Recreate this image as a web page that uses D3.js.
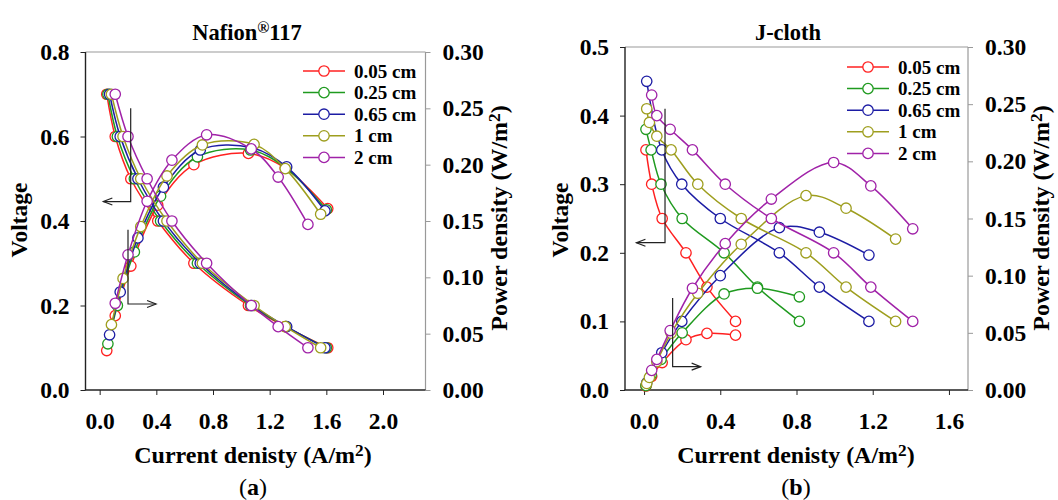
<!DOCTYPE html>
<html><head><meta charset="utf-8">
<script src="https://cdn.jsdelivr.net/npm/d3@7/dist/d3.min.js"></script>
<style>body{margin:0;background:#fff}svg{display:block}</style>
</head><body>
<svg id="c" width="1058" height="500"></svg>
<script>
// ---------- data ----------
const seriesNames = ["0.05 cm", "0.25 cm", "0.65 cm", "1 cm", "2 cm"];
const seriesColors = ["#ff2020", "#1f9a1f", "#1c1ca4", "#9e9e1e", "#a022a8"];

// Nafion 117 (panel a)
const nafionCurrent = [
  [0.05, 0.11, 0.22, 0.41, 0.665, 1.05, 1.31, 1.61],
  [0.058, 0.125, 0.245, 0.43, 0.69, 1.065, 1.315, 1.6],
  [0.07, 0.145, 0.27, 0.45, 0.71, 1.075, 1.32, 1.59],
  [0.083, 0.165, 0.29, 0.475, 0.725, 1.09, 1.31, 1.56],
  [0.11, 0.2, 0.335, 0.51, 0.755, 1.07, 1.26, 1.47]
];
const nafionVoltage = [
  [0.7, 0.6, 0.5, 0.4, 0.3, 0.2, 0.15, 0.1],
  [0.7, 0.6, 0.5, 0.4, 0.3, 0.2, 0.15, 0.1],
  [0.7, 0.6, 0.5, 0.4, 0.3, 0.2, 0.15, 0.1],
  [0.7, 0.6, 0.5, 0.4, 0.3, 0.2, 0.15, 0.1],
  [0.7, 0.6, 0.5, 0.4, 0.3, 0.2, 0.15, 0.1]
];
const nafionPower = [
  [0.035, 0.066, 0.11, 0.164, 0.2, 0.21, 0.197, 0.161],
  [0.041, 0.075, 0.1225, 0.172, 0.207, 0.213, 0.197, 0.16],
  [0.049, 0.087, 0.135, 0.18, 0.213, 0.215, 0.198, 0.159],
  [0.058, 0.099, 0.145, 0.19, 0.2175, 0.218, 0.1965, 0.156],
  [0.077, 0.12, 0.1675, 0.204, 0.2265, 0.214, 0.189, 0.147]
];

// J-cloth (panel b)
const jclothCurrent = [
  [0.01, 0.04, 0.095, 0.22, 0.33, 0.48],
  [0.01, 0.037, 0.089, 0.2, 0.42, 0.595, 0.815],
  [0.014, 0.093, 0.198, 0.4, 0.71, 0.92, 1.18],
  [0.014, 0.028, 0.067, 0.142, 0.282, 0.51, 0.85, 1.06, 1.32],
  [0.04, 0.067, 0.137, 0.254, 0.426, 0.668, 0.995, 1.19, 1.41]
];
const jclothVoltage = [
  [0.35, 0.3, 0.25, 0.2, 0.15, 0.1],
  [0.38, 0.35, 0.3, 0.25, 0.2, 0.15, 0.1],
  [0.45, 0.35, 0.3, 0.25, 0.2, 0.15, 0.1],
  [0.41, 0.39, 0.37, 0.35, 0.3, 0.25, 0.2, 0.15, 0.1],
  [0.43, 0.4, 0.38, 0.35, 0.3, 0.25, 0.2, 0.15, 0.1]
];
const jclothPower = [
  [0.0035, 0.012, 0.024, 0.044, 0.0495, 0.048],
  [0.0038, 0.013, 0.0267, 0.05, 0.084, 0.089, 0.0815],
  [0.0063, 0.0326, 0.06, 0.1, 0.142, 0.138, 0.118],
  [0.0057, 0.011, 0.0248, 0.0497, 0.0846, 0.1275, 0.17, 0.159, 0.132],
  [0.0172, 0.0268, 0.052, 0.089, 0.128, 0.167, 0.199, 0.1785, 0.141]
];

const xTicksA = [0, 0.4, 0.8, 1.2, 1.6, 2.0];
const xTicksB = [0, 0.4, 0.8, 1.2, 1.6];
const vTicksA = [0, 0.2, 0.4, 0.6, 0.8];
const vTicksB = [0, 0.1, 0.2, 0.3, 0.4, 0.5];
const pTicks = [0, 0.05, 0.10, 0.15, 0.20, 0.25, 0.30];

// annotation arrows in data units: [x of vertical, V top, V bottom, x of tip]
const arrowsA = [[0.219, 0.667, 0.446, 0.026], [0.2, 0.379, 0.2036, 0.398]];
const arrowsB = [[0.11, 0.41, 0.2147, -0.04], [0.15, 0.134, 0.034, 0.297]];

// ---------- drawing ----------
const FONT = "'Liberation Serif','Times New Roman',serif";
const svg = d3.select("#c");

function supText(sel, parts) {
  parts.forEach(([t, sup], k) => {
    const ts = sel.append("tspan").text(t);
    if (sup) ts.attr("font-size", "0.72em").attr("dy", "-0.42em");
    else if (k > 0 && parts[k - 1][1]) ts.attr("dy", "0.3em");
  });
}

function panel(cfg) {
  const g = svg.append("g");
  const x = d3.scaleLinear().domain(cfg.xDomain).range([cfg.left, cfg.right]);
  const yV = d3.scaleLinear().domain([0, cfg.vMax]).range([cfg.bottom, cfg.top]);
  const yP = d3.scaleLinear().domain([0, 0.3]).range([cfg.bottom, cfg.top]);

  const ax = g.append("g").attr("transform", `translate(0,${cfg.bottom})`)
    .call(d3.axisBottom(x).tickValues(cfg.xTicks).tickFormat(d3.format(".1f")).tickSize(5).tickPadding(17));
  const ayl = g.append("g").attr("transform", `translate(${cfg.left},0)`)
    .call(d3.axisLeft(yV).tickValues(cfg.vTicks).tickFormat(d3.format(".1f")).tickSize(5).tickPadding(11));
  const ayr = g.append("g").attr("transform", `translate(${cfg.right},0)`)
    .call(d3.axisRight(yP).tickValues(pTicks).tickFormat(d3.format(".2f")).tickSize(5).tickPadding(12));
  [ax, ayl, ayr].forEach(a => {
    a.select(".domain").remove();
    a.selectAll("text").attr("font-family", FONT).attr("font-weight", "bold")
      .attr("font-size", 23.5).attr("fill", "#000");
    a.selectAll("line").attr("stroke", "#222").attr("stroke-width", 1);
  });
  ayr.selectAll("line").attr("stroke", "#999");

  // frame
  g.append("line").attr("x1", cfg.left).attr("x2", cfg.right).attr("y1", cfg.top).attr("y2", cfg.top)
    .attr("stroke", "#999").attr("stroke-width", 1.2);
  g.append("line").attr("x1", cfg.right).attr("x2", cfg.right).attr("y1", cfg.top).attr("y2", cfg.bottom)
    .attr("stroke", "#999").attr("stroke-width", 1.2);
  g.append("line").attr("x1", cfg.left - 0.5).attr("x2", cfg.right).attr("y1", cfg.bottom).attr("y2", cfg.bottom)
    .attr("stroke", "#222").attr("stroke-width", 1.4);
  g.append("line").attr("x1", cfg.left).attr("x2", cfg.left).attr("y1", cfg.top).attr("y2", cfg.bottom)
    .attr("stroke", "#222").attr("stroke-width", 1.4);

  const lineV = d3.line().x(d => x(d[0])).y(d => yV(d[1])).curve(d3.curveCatmullRom.alpha(0.5));
  const lineP = d3.line().x(d => x(d[0])).y(d => yP(d[1])).curve(d3.curveCatmullRom.alpha(0.5));
  cfg.current.forEach((cur, i) => {
    const col = seriesColors[i];
    const vPts = cur.map((c, j) => [c, cfg.voltage[i][j]]);
    const pPts = cur.map((c, j) => [c, cfg.power[i][j]]);
    g.append("path").attr("d", lineV(vPts)).attr("fill", "none").attr("stroke", col).attr("stroke-width", 1.5);
    g.append("path").attr("d", lineP(pPts)).attr("fill", "none").attr("stroke", col).attr("stroke-width", 1.5);
    g.selectAll(null).data(vPts).enter().append("circle")
      .attr("cx", d => x(d[0])).attr("cy", d => yV(d[1])).attr("r", 5.2)
      .attr("fill", "#fff").attr("stroke", col).attr("stroke-width", 1.3);
    g.selectAll(null).data(pPts).enter().append("circle")
      .attr("cx", d => x(d[0])).attr("cy", d => yP(d[1])).attr("r", 5.2)
      .attr("fill", "#fff").attr("stroke", col).attr("stroke-width", 1.3);
  });

  cfg.arrows.forEach(([ax0, vt, vb, tip]) => {
    const X = x(ax0), Yt = yV(vt), Yb = yV(vb), T = x(tip);
    const dir = T < X ? 1 : -1;
    g.append("path").attr("d", `M${X},${Yt}L${X},${Yb}L${T},${Yb}`)
      .attr("fill", "none").attr("stroke", "#222").attr("stroke-width", 1.2);
    g.append("path").attr("d", `M${T + dir * 9},${Yb - 3.5}L${T},${Yb}L${T + dir * 9},${Yb + 3.5}`)
      .attr("fill", "none").attr("stroke", "#222").attr("stroke-width", 1.2);
  });

  seriesNames.forEach((name, i) => {
    const ly = cfg.legY + i * 21.6;
    g.append("line").attr("x1", cfg.legX).attr("x2", cfg.legX + 42).attr("y1", ly).attr("y2", ly)
      .attr("stroke", seriesColors[i]).attr("stroke-width", 1.5);
    g.append("circle").attr("cx", cfg.legX + 21).attr("cy", ly).attr("r", 5.2)
      .attr("fill", "#fff").attr("stroke", seriesColors[i]).attr("stroke-width", 1.3);
    g.append("text").attr("x", cfg.legX + 51).attr("y", ly + 6.5).text(name)
      .attr("font-family", FONT).attr("font-weight", "bold").attr("font-size", 19);
  });

  const t = g.append("text").attr("x", cfg.titleX).attr("y", 40).attr("text-anchor", "middle")
    .attr("font-family", FONT).attr("font-weight", "bold").attr("font-size", 22.5);
  supText(t, cfg.title);

  const xl = g.append("text").attr("x", cfg.xLabelX).attr("y", 463).attr("text-anchor", "middle")
    .attr("font-family", FONT).attr("font-weight", "bold").attr("font-size", 24);
  supText(xl, [["Current denisty (A/m", false], ["2", true], [")", false]]);

  g.append("text").attr("transform", `translate(${cfg.vLabelX},220) rotate(-90)`).attr("text-anchor", "middle")
    .attr("font-family", FONT).attr("font-weight", "bold").attr("font-size", 23.5).text("Voltage");

  const pl = g.append("text").attr("transform", `translate(${cfg.pLabelX},218) rotate(-90)`).attr("text-anchor", "middle")
    .attr("font-family", FONT).attr("font-weight", "bold").attr("font-size", 24);
  supText(pl, [["Power density (W/m", false], ["2", true], [")", false]]);

  const cap = g.append("text").attr("x", cfg.xLabelX).attr("y", 495).attr("text-anchor", "middle")
    .attr("font-family", FONT).attr("font-size", 24);
  cap.append("tspan").text("(");
  cap.append("tspan").attr("font-weight", "bold").text(cfg.cap);
  cap.append("tspan").text(")");
}

panel({
  left: 85.5, right: 425.5, top: 52, bottom: 390, xDomain: [-0.1, 2.3], vMax: 0.8,
  xTicks: xTicksA, vTicks: vTicksA, current: nafionCurrent, voltage: nafionVoltage, power: nafionPower,
  arrows: arrowsA, legX: 303, legY: 71, titleX: 247, title: [["Nafion", false], ["®", true], ["117", false]],
  xLabelX: 253, vLabelX: 27, pLabelX: 507, cap: "a"
});
panel({
  left: 625, right: 968, top: 47, bottom: 390, xDomain: [-0.1, 1.7], vMax: 0.5,
  xTicks: xTicksB, vTicks: vTicksB, current: jclothCurrent, voltage: jclothVoltage, power: jclothPower,
  arrows: arrowsB, legX: 847, legY: 67, titleX: 788, title: [["J-cloth", false]],
  xLabelX: 796, vLabelX: 568, pLabelX: 1049, cap: "b"
});
</script>
</body></html>
